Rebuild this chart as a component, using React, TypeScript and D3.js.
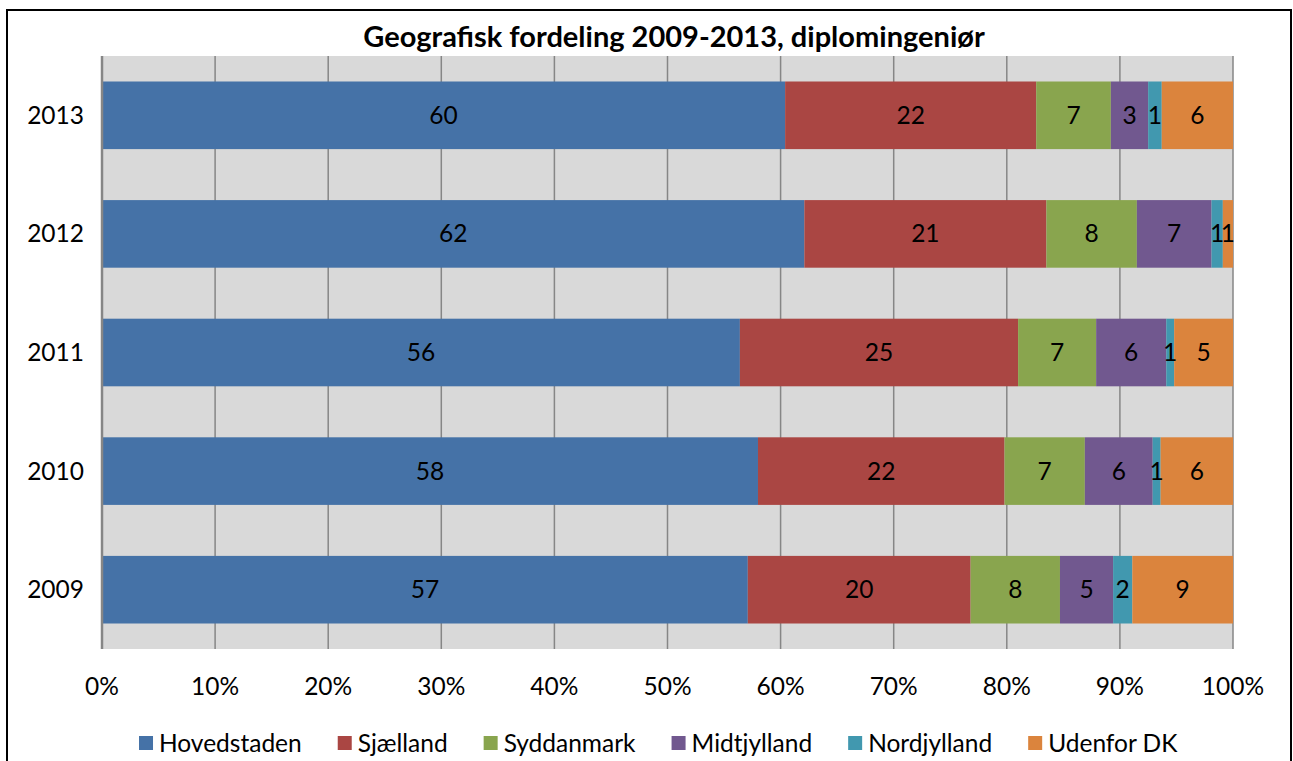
import React from 'react';
import * as d3 from 'd3';

const years = ['2013', '2012', '2011', '2010', '2009'];
const regions = ['Hovedstaden', 'Sjælland', 'Syddanmark', 'Midtjylland', 'Nordjylland', 'Udenfor DK'];
const colors = ['#4572A7', '#AA4643', '#89A54E', '#71588F', '#4198AF', '#DB843D'];
const hovedstaden = [60.4, 62.1, 56.4, 58.0, 57.1];
const sjaelland = [22.2, 21.4, 24.6, 21.8, 19.7];
const syddanmark = [6.6, 8.0, 6.9, 7.1, 7.9];
const midtjylland = [3.3, 6.6, 6.2, 6.0, 4.7];
const nordjylland = [1.2, 1.0, 0.7, 0.7, 1.7];
const udenfor = [6.3, 0.9, 5.2, 6.4, 8.9];
const xTicks = [0, 0.1, 0.2, 0.3, 0.4, 0.5, 0.6, 0.7, 0.8, 0.9, 1.0];
const title = 'Geografisk fordeling 2009-2013, diplomingeniør';

const seriesValues = [hovedstaden, sjaelland, syddanmark, midtjylland, nordjylland, udenfor];

const W = 1293;
const H = 761;
const FONT = 'Lato, "Open Sans", sans-serif';
const LABEL_SIZE = 24.5;

function measure(text: string, size: number, weight = 'normal') {
  const c = document.createElement('canvas');
  const ctx = c.getContext('2d')!;
  ctx.font = `${weight} ${size}px Lato`;
  return ctx.measureText(text).width;
}

export default function App() {
  const plot = { left: 102, right: 1233, top: 56, bottom: 649 };
  const table = years.map((y, i) => {
    const row: any = { year: y };
    regions.forEach((r, j) => (row[r] = seriesValues[j][i]));
    return row;
  });
  const stacked = d3.stack<any>().keys(regions).offset(d3.stackOffsetExpand)(table);
  const x = d3.scaleLinear().domain([0, 1]).range([plot.left, plot.right]);
  const y = d3.scaleBand().domain(years).range([plot.top, plot.bottom]).paddingInner(0.43).paddingOuter(0.215);

  const swatch = 14;
  const gapSw = 6;
  const gapItem = 36;
  const widths = regions.map((r) => measure(r, LABEL_SIZE));
  const itemW = widths.map((w) => swatch + gapSw + w);
  const totalW = d3.sum(itemW) + gapItem * (regions.length - 1);
  let cx = 658.5 - totalW / 2;
  const legendItems = regions.map((r, i) => {
    const xx = cx;
    cx += itemW[i] + gapItem;
    return { r, x: xx, color: colors[i] };
  });
  const legendY = 743;

  return (
    <svg width={W} height={H} style={{ position: 'fixed', left: 0, top: 0, background: '#fff' }} fontFamily={FONT}>
      <rect x={0} y={0} width={W} height={H} fill="#fff" />
      <rect x={7} y={10} width={1284} height={780} fill="none" stroke="#000" strokeWidth={2} />
      <text x={674} y={47} textAnchor="middle" fontSize={29} fontWeight="bold" fill="#000">{title}</text>
      <rect x={plot.left} y={plot.top} width={plot.right - plot.left} height={plot.bottom - plot.top} fill="#D9D9D9" />
      {xTicks.map((t) => (
        <line key={t} x1={x(t)} x2={x(t)} y1={plot.top} y2={plot.bottom} stroke="#868686" strokeWidth={1.5} />
      ))}
      {stacked.map((s, si) => (
        <g key={s.key}>
          {s.map((d, di) => (
            <rect key={di} x={x(d[0])} y={y(years[di])!} width={x(d[1]) - x(d[0])} height={y.bandwidth()} fill={colors[si]} />
          ))}
        </g>
      ))}
      {stacked.map((s, si) => (
        <g key={'l' + s.key}>
          {s.map((d, di) => (
            <text key={di} x={(x(d[0]) + x(d[1])) / 2} y={y(years[di])! + y.bandwidth() / 2 + 8.5} textAnchor="middle" fontSize={LABEL_SIZE} fill="#000">
              {Math.round(seriesValues[si][di])}
            </text>
          ))}
        </g>
      ))}
      <line x1={plot.left} x2={plot.left} y1={plot.top} y2={plot.bottom} stroke="#868686" strokeWidth={2.5} />
      {years.map((yr) => (
        <text key={yr} x={84} y={y(yr)! + y.bandwidth() / 2 + 8.5} textAnchor="end" fontSize={LABEL_SIZE} fill="#000">{yr}</text>
      ))}
      {xTicks.map((t) => (
        <text key={'t' + t} x={x(t)} y={695} textAnchor="middle" fontSize={LABEL_SIZE} fill="#000">{d3.format('.0%')(t)}</text>
      ))}
      {legendItems.map((it) => (
        <g key={it.r}>
          <rect x={it.x} y={legendY - swatch / 2} width={swatch} height={swatch} fill={it.color} />
          <text x={it.x + swatch + gapSw} y={legendY + 8.5} fontSize={LABEL_SIZE} fill="#000">{it.r}</text>
        </g>
      ))}
    </svg>
  );
}
